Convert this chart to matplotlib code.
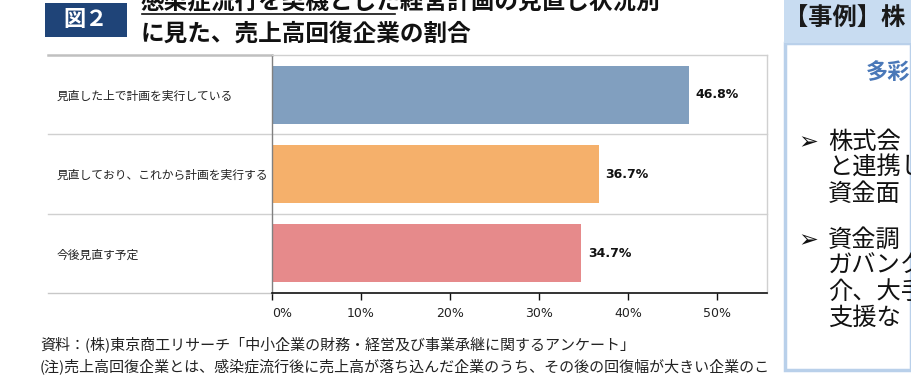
import matplotlib.pyplot as plt
from matplotlib.patches import Rectangle
from matplotlib.lines import Line2D
import matplotlib.transforms as mtransforms

plt.rcParams['font.family'] = ['Noto Sans CJK JP', 'DejaVu Sans']

W, H = 911, 376

# データ
categories = ["見直した上で計画を実行している",
              "見直しており、これから計画を実行する",
              "今後見直す予定"]
values = [46.8, 36.7, 34.7]
bar_colors = ["#819fbf", "#f5b06b", "#e68a8b"]
xticks = [0, 10, 20, 30, 40, 50]

title_line1 = "感染症流行を契機とした経営計画の見直し状況別"
title_line2 = "に見た、売上高回復企業の割合"
fig_label = "図２"
note1 = "資料：(株)東京商工リサーチ「中小企業の財務・経営及び事業承継に関するアンケート」"
note2 = "(注)売上高回復企業とは、感染症流行後に売上高が落ち込んだ企業のうち、その後の回復幅が大きい企業のこ"
side_header = "【事例】株"
side_sub = "多彩"
side_lines1 = ["株式会", "と連携し", "資金面"]
side_lines2 = ["資金調", "ガバンク", "介、大手", "支援な"]


def fx(px):
    return px / W


def fy(py):
    return 1 - py / H


fig = plt.figure(figsize=(W / 100, H / 100), dpi=100)

# 棒グラフ本体
ax_l, ax_r, ax_t, ax_b = 272, 767, 55, 293
ax = fig.add_axes([fx(ax_l), fy(ax_b), fx(ax_r - ax_l), (ax_b - ax_t) / H])
ypos = list(range(len(categories)))
ax.barh(ypos, values, height=0.73, color=bar_colors, zorder=2)
ax.set_xlim(0, 55.6)
ax.set_ylim(len(categories) - 0.5, -0.5)

for y, v in zip(ypos, values):
    ax.annotate(f"{v:.1f}%", (v, y), xytext=(5, 0), textcoords="offset points",
                ha="left", va="center", fontsize=9, fontweight="bold",
                family="DejaVu Sans", color="#111111")

ax.set_xticks(xticks)
ax.set_xticklabels([f"{t}%" for t in xticks], family="DejaVu Sans", fontsize=9, color="#222222")
ax.get_xticklabels()[0].set_ha("left")
ax.tick_params(axis="x", length=5, width=1, color="#111111", pad=5)
ax.set_yticks([])

for s in ["top", "right"]:
    ax.spines[s].set_color("#d0d0d0")
    ax.spines[s].set_linewidth(1)
ax.spines["bottom"].set_color("#111111")
ax.spines["bottom"].set_linewidth(1.2)
ax.spines["left"].set_color("#808080")
ax.spines["left"].set_linewidth(1)

# 表の行区切り
left_ext = -(ax_l - 48) / (ax_r - ax_l)
for yb in [0.5, 1.5]:
    ax.axhline(yb, xmin=left_ext, xmax=1, color="#d0d0d0", lw=1, clip_on=False, zorder=1)
ax.axhline(-0.5, xmin=left_ext, xmax=0, color="#c0c0c0", lw=1.8, clip_on=False)
ax.axhline(len(categories) - 0.5, xmin=left_ext, xmax=0, color="#c8c8c8", lw=1, clip_on=False)

trans = mtransforms.blended_transform_factory(ax.transAxes, ax.transData)
lab_x = -(ax_l - 57) / (ax_r - ax_l)
for y, c in zip(ypos, categories):
    ax.text(lab_x, y + 0.02, c, transform=trans, ha="left", va="center",
            fontsize=8.5, color="#222222")

# タイトル
fig.patches.append(Rectangle((fx(45), fy(37)), fx(82), 34 / H, transform=fig.transFigure,
                             facecolor="#1f4478", edgecolor="none"))
fig.text(fx(86), fy(20), fig_label, ha="center", va="center", color="white",
         fontsize=16, fontweight="bold")
fig.text(fx(141), fy(1), title_line1, ha="left", va="center", fontsize=17,
         fontweight="bold", color="#111111")
fig.lines.append(Line2D([fx(142), fx(395)], [fy(14), fy(14)], transform=fig.transFigure,
                        color="#111111", lw=1.2))
fig.text(fx(141), fy(34), title_line2, ha="left", va="center", fontsize=17,
         fontweight="bold", color="#111111")

# 注記
fig.text(fx(40), fy(345), note1, ha="left", va="center", fontsize=10.8, color="#222222")
fig.text(fx(40), fy(366), note2, ha="left", va="center", fontsize=10.8, color="#222222")

# 右側の事例パネル
fig.patches.append(Rectangle((fx(785), fy(370)), fx(W - 785), (370 - 43) / H,
                             transform=fig.transFigure, facecolor="white",
                             edgecolor="#b9d0ea", lw=2.5))
fig.patches.append(Rectangle((fx(784), fy(43)), fx(W - 784), 43 / H,
                             transform=fig.transFigure, facecolor="#c8dcf1", edgecolor="none"))
fig.text(fx(784), fy(19), side_header, ha="left", va="center", fontsize=17.5,
         fontweight="bold", color="#1a1a1a")
fig.text(fx(866), fy(73), side_sub, ha="left", va="center", fontsize=16,
         fontweight="bold", color="#4a78b8")

for lines, y0 in [(side_lines1, 142), (side_lines2, 240)]:
    fig.text(fx(798), fy(y0), "➢", ha="left", va="center", fontsize=17,
             family="DejaVu Sans", color="#111111")
    for i, t in enumerate(lines):
        fig.text(fx(828), fy(y0 + i * 26), t, ha="left", va="center", fontsize=17.5,
                 color="#111111")

fig.savefig("out.png", dpi=100)
